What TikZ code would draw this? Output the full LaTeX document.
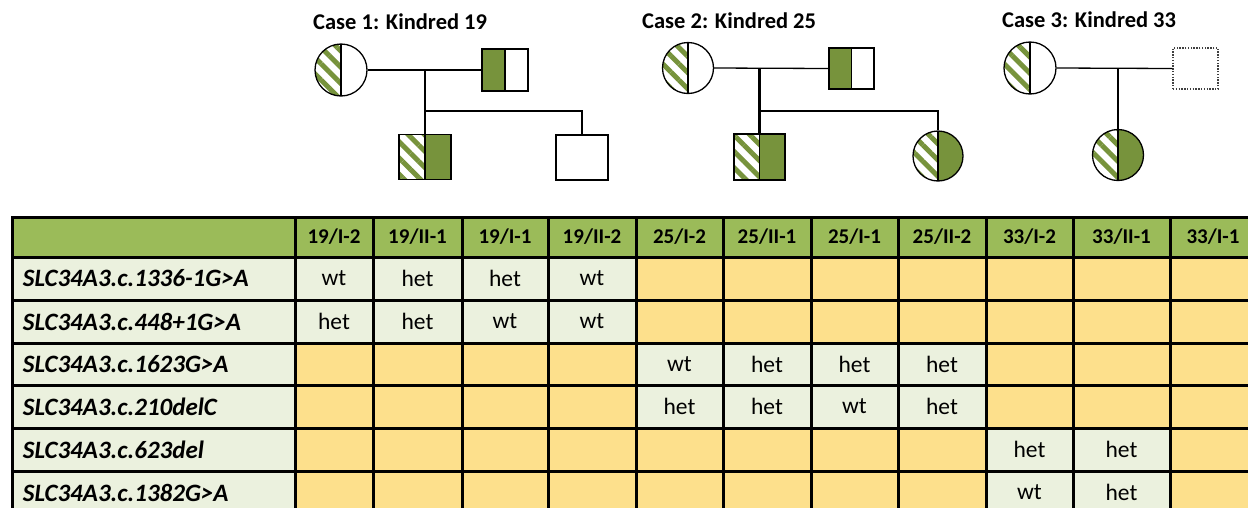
\documentclass[tikz,border=0pt]{standalone}
\usepackage{fontspec}
\setmainfont{Carlito}
\usetikzlibrary{patterns.meta,calc}
\definecolor{pgreen}{HTML}{77933C}
\definecolor{hdrgreen}{HTML}{9BBB59}
\definecolor{lightcell}{HTML}{EBF1DE}
\definecolor{yelcell}{HTML}{FDE08C}
\tikzset{
  sym/.style={draw=black, line width=1.3pt, inner sep=0pt, fill=white},
  fem/.style={sym, circle, minimum size=#1},
  mal/.style 2 args={sym, rectangle, minimum width=#1, minimum height=#2},
  hatchpat/.style={pattern={Lines[angle=-45,distance=11.5pt,line width=5pt]}, pattern color=pgreen},
  hatchwhite/.style={path picture={
    \fill[hatchpat] (path picture bounding box.north west) rectangle (path picture bounding box.south);
    \draw[line width=1.3pt] (path picture bounding box.north) -- (path picture bounding box.south);}},
  hatchgreen/.style={path picture={
    \fill[hatchpat] (path picture bounding box.north west) rectangle (path picture bounding box.south);
    \fill[pgreen] (path picture bounding box.north) rectangle (path picture bounding box.south east);
    \draw[line width=1.3pt] (path picture bounding box.north) -- (path picture bounding box.south);}},
  greenwhite/.style={path picture={
    \fill[pgreen] (path picture bounding box.north west) rectangle (path picture bounding box.south);
    \draw[line width=1.3pt] (path picture bounding box.north) -- (path picture bounding box.south);}},
  unknown/.style={draw=black!75, line width=1.4pt, dash pattern=on 1.4pt off 1.4pt, inner sep=0pt, fill=white},
  mline/.style={line width=1.3pt},
  sibline/.style={line width=2.2pt},
  title/.style={anchor=base west, inner sep=0pt, font=\fontsize{22.5}{26}\selectfont\bfseries},
  tcell/.style={draw=black, line width=3pt, inner sep=0pt, font=\fontsize{23.5}{27}\selectfont},
  hcell/.style={tcell, fill=hdrgreen, font=\fontsize{21}{25}\selectfont\bfseries},
  lblcell/.style={tcell, fill=lightcell, text width=261pt, align=left, inner xsep=11pt,
    font=\fontsize{25}{29}\selectfont\bfseries\itshape},
}
\begin{document}
\begin{tikzpicture}[x=1pt,y=-1pt]
\useasboundingbox (0,0) rectangle (1248,507);

% ---------- Case 1 ----------
\node[title] (t19) at (313,29) {Case 1: Kindred 19};
\node[fem=52pt, hatchwhite] (k19f) at (341,70) {};
\node[mal={46pt}{42pt}, greenwhite] (k19m) at (505,70) {};
\node[mal={52pt}{45pt}, hatchgreen] (k19c1) at (425,157) {};
\node[mal={52pt}{45pt}] (k19c2) at (582,157.5) {};
\draw[mline] (k19f.east) -- (k19m.west);
\coordinate (k19d) at (k19c1.north |- k19f.east);
\coordinate (k19s) at (425,111);
\draw[mline] (k19d) -- (k19c1.north);
\draw[sibline] (k19s) -| (k19c2.north);

% ---------- Case 2 ----------
\node[title] (t25) at (642,28) {Case 2: Kindred 25};
\node[fem=51pt, hatchwhite] (k25f) at (688,68) {};
\node[mal={45pt}{41pt}, greenwhite] (k25m) at (851.5,68.5) {};
\node[mal={51pt}{46pt}, hatchgreen] (k25c1) at (759.5,157) {};
\node[fem=50pt, hatchgreen] (k25c2) at (938,156) {};
\draw[mline] (k25f.east) -- (k25m.west);
\coordinate (k25d) at (k25c1.north |- k25f.east);
\coordinate (k25s) at (759.5,111);
\draw[sibline] (k25d) -- (k25c1.north);
\draw[sibline] (k25s) -| (k25c2.north);

% ---------- Case 3 ----------
\node[title] (t33) at (1002,27) {Case 3: Kindred 33};
\node[fem=52pt, hatchwhite] (k33f) at (1030,68) {};
\node[unknown, minimum width=45pt, minimum height=41pt] (k33m) at (1195.5,68.5) {};
\node[fem=51pt, hatchgreen] (k33c) at (1118,155) {};
\draw[mline] (k33f.east) -- (k33m.west);
\coordinate (k33d) at (k33c.north |- k33f.east);
\draw[sibline] (k33d) -- (k33c.north);

% ---------- Table ----------
\def\colA{{12,295,373,462,548,636,723,811,898,986,1073,1170,1256}}
\def\rowB{{217,257,300,343,385,428,471,514}}
\node[hcell, minimum width=283pt, minimum height=40pt] (h0) at (153.5,237) {};
\foreach \h [count=\i] in {{19/I-2},{19/II-1},{19/I-1},{19/II-2},{25/I-2},{25/II-1},{25/I-1},{25/II-2},{33/I-2},{33/II-1},{33/I-1}}{
  \pgfmathsetmacro\xa{\colA[\i]}
  \pgfmathsetmacro\xb{\colA[\i+1]}
  \pgfmathsetmacro\ww{\xb-\xa}
  \node[hcell, minimum width=\ww pt, minimum height=40pt] (h\i) at ({(\xa+\xb)/2},237) {\h};
}
\foreach \rw/\lab/\vals in {
  1/{SLC34A3.c.1336-1G>A}/{wt,het,het,wt,-,-,-,-,-,-,-},
  2/{SLC34A3.c.448+1G>A}/{het,het,wt,wt,-,-,-,-,-,-,-},
  3/{SLC34A3.c.1623G>A}/{-,-,-,-,wt,het,het,het,-,-,-},
  4/{SLC34A3.c.210delC}/{-,-,-,-,het,het,wt,het,-,-,-},
  5/{SLC34A3.c.623del}/{-,-,-,-,-,-,-,-,het,het,-},
  6/{SLC34A3.c.1382G>A}/{-,-,-,-,-,-,-,-,wt,het,-}}{
  \pgfmathsetmacro\ya{\rowB[\rw]}
  \pgfmathsetmacro\yb{\rowB[\rw+1]}
  \pgfmathsetmacro\hh{\yb-\ya}
  \pgfmathsetmacro\yc{(\ya+\yb)/2}
  \node[lblcell, minimum height=\hh pt] (lab\rw) at (153.5,\yc) {\lab};
  \foreach \v [count=\i] in \vals {
    \pgfmathsetmacro\xa{\colA[\i]}
    \pgfmathsetmacro\xb{\colA[\i+1]}
    \pgfmathsetmacro\ww{\xb-\xa}
    \edef\cellv{\v}\def\dashv{-}
    \ifx\cellv\dashv\def\cellsty{yelcell}\def\cellv{}\else\def\cellsty{lightcell}\fi
    \node[tcell, fill=\cellsty, minimum width=\ww pt, minimum height=\hh pt] (v\rw c\i) at ({(\xa+\xb)/2},\yc) {\cellv};
  }
}
\end{tikzpicture}
\end{document}
